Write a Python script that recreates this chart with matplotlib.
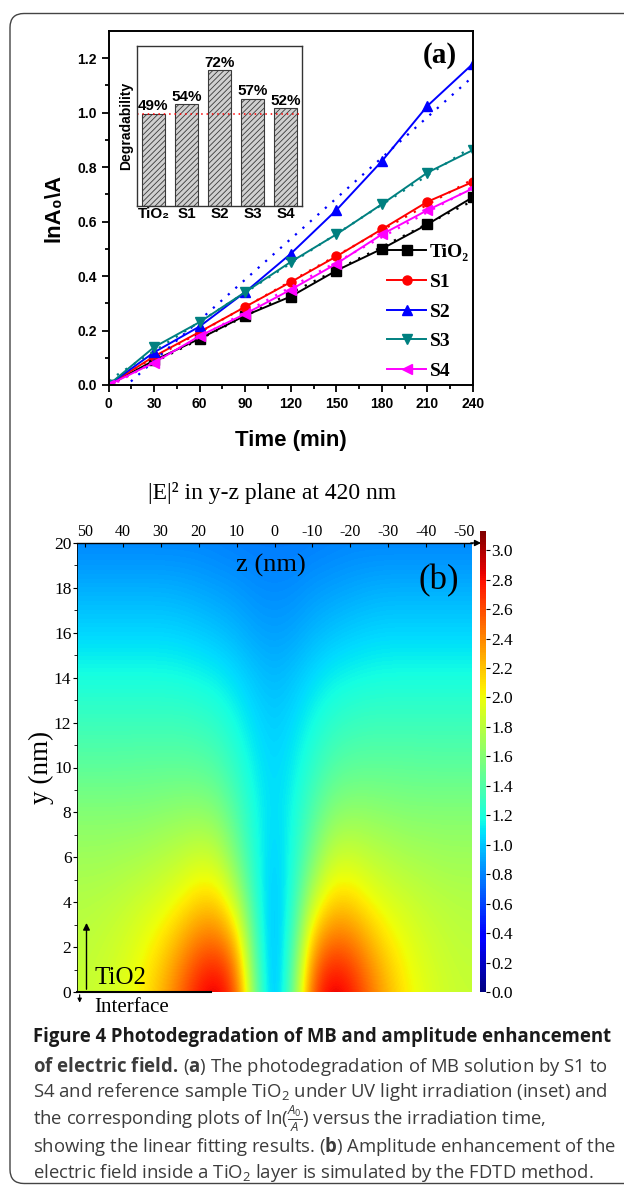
import numpy as np
import matplotlib
matplotlib.use("Agg")
import matplotlib.pyplot as plt
from matplotlib.patches import FancyBboxPatch

plt.rcParams['font.family'] = ['Liberation Sans', 'DejaVu Sans']
plt.rcParams['mathtext.fontset'] = 'custom'
plt.rcParams['mathtext.rm'] = 'Open Sans'
plt.rcParams['mathtext.it'] = 'Open Sans:italic'
plt.rcParams['mathtext.bf'] = 'Open Sans:bold'
plt.rcParams['hatch.linewidth'] = 0.6

# ---------------- data, panel (a) ----------------
time = [0, 30, 60, 90, 120, 150, 180, 210, 240]
tio2 = [0, 0.09, 0.17, 0.255, 0.325, 0.42, 0.50, 0.59, 0.69]
s1 = [0, 0.105, 0.195, 0.287, 0.378, 0.472, 0.572, 0.673, 0.746]
s2 = [0, 0.12, 0.215, 0.341, 0.482, 0.642, 0.822, 1.025, 1.18]
s3 = [0, 0.139, 0.231, 0.341, 0.452, 0.553, 0.664, 0.78, 0.863]
s4 = [0, 0.082, 0.18, 0.261, 0.35, 0.445, 0.553, 0.642, 0.722]

samples = ['TiO₂', 'S1', 'S2', 'S3', 'S4']
degradability = [49, 54, 72, 57, 52]

# ---------------- data, panel (b) ----------------
# |E|^2, rows y = 0,2,...,20 nm, columns z = 0,5,...,50 nm (mirror symmetric)
y_nodes = [0, 2, 4, 6, 8, 10, 12, 14, 16, 18, 20]
z_nodes = [0, 5, 10, 15, 20, 25, 30, 35, 40, 45, 50]
field_half = [
    [0.85, 1.50, 2.60, 2.95, 2.80, 2.50, 2.25, 2.05, 1.95, 1.88, 1.85],
    [0.90, 1.35, 2.30, 2.55, 2.50, 2.30, 2.10, 1.98, 1.90, 1.85, 1.82],
    [0.95, 1.25, 1.85, 2.15, 2.15, 2.02, 1.93, 1.88, 1.83, 1.80, 1.78],
    [1.00, 1.20, 1.55, 1.85, 1.88, 1.82, 1.78, 1.74, 1.72, 1.70, 1.70],
    [1.05, 1.17, 1.40, 1.60, 1.65, 1.64, 1.62, 1.60, 1.60, 1.60, 1.60],
    [1.05, 1.12, 1.27, 1.40, 1.45, 1.46, 1.46, 1.46, 1.45, 1.45, 1.45],
    [1.02, 1.07, 1.17, 1.26, 1.30, 1.32, 1.32, 1.32, 1.32, 1.32, 1.32],
    [0.96, 1.00, 1.07, 1.13, 1.16, 1.18, 1.19, 1.19, 1.19, 1.19, 1.19],
    [0.88, 0.90, 0.95, 0.99, 1.02, 1.04, 1.05, 1.05, 1.05, 1.05, 1.05],
    [0.82, 0.83, 0.86, 0.88, 0.90, 0.92, 0.93, 0.93, 0.93, 0.93, 0.93],
    [0.77, 0.77, 0.78, 0.79, 0.80, 0.80, 0.80, 0.80, 0.80, 0.80, 0.80],
]
z_ticks = [50, 40, 30, 20, 10, 0, -10, -20, -30, -40, -50]
cbar_ticks = [0.0, 0.2, 0.4, 0.6, 0.8, 1.0, 1.2, 1.4, 1.6, 1.8, 2.0, 2.2, 2.4, 2.6, 2.8, 3.0]

W, H = 624, 1187
fig = plt.figure(figsize=(W / 100, H / 100), dpi=100)


def box(x0, y0, x1, y1):
    # pixel box (top-left origin) -> figure fraction
    return [x0 / W, 1 - y1 / H, (x1 - x0) / W, (y1 - y0) / H]


# outer rounded frame
frame = FancyBboxPatch((0.10, 0.035), 7.0, 11.70, boxstyle="round,pad=0,rounding_size=0.14",
                       transform=fig.dpi_scale_trans, fill=False, lw=1.0, ec='#444444')
fig.add_artist(frame)

# ================= panel (a) =================
ax = fig.add_axes(box(108.5, 31, 473, 385))
series = [(tio2, 'TiO₂', 'black', 's'), (s1, 'S1', 'red', 'o'), (s2, 'S2', 'blue', '^'),
          (s3, 'S3', '#008080', 'v'), (s4, 'S4', '#ff00ff', '<')]
tx = np.array(time, dtype=float)
for vals, lab, col, mk in series:
    ax.plot(time, vals, color=col, marker=mk, ms=6.5, lw=1.4, label=lab)
    k, b = np.polyfit(tx, vals, 1)
    ax.plot([0, 240], [b, b + k * 240], color=col, lw=1.6, ls=(0, (1, 3.5)))

ax.set_xlim(0, 240)
ax.set_ylim(0, 1.3)
ax.set_xticks(range(0, 241, 30))
ax.set_xticks(range(15, 241, 30), minor=True)
ax.set_yticks(np.arange(0, 1.21, 0.2))
ax.set_yticks(np.arange(0.1, 1.3, 0.2), minor=True)
ax.set_yticklabels(['%.1f' % v for v in np.arange(0, 1.21, 0.2)])
ax.tick_params(which='both', direction='out', width=1.3, labelsize=10)
ax.tick_params(which='major', length=5)
ax.tick_params(which='minor', length=3)
for lab in ax.get_xticklabels() + ax.get_yticklabels():
    lab.set_fontweight('bold')
for sp in ax.spines.values():
    sp.set_linewidth(1.4)
ax.set_xlabel('Time (min)', fontsize=16, fontweight='bold')
ax.set_ylabel('lnA₀\\A', fontsize=16, fontweight='bold')
ax.xaxis.set_label_coords(0.5, -0.128)
ax.yaxis.set_label_coords(-0.122, 0.5)
ax.text(0.955, 0.93, '(a)', transform=ax.transAxes, ha='right', va='center',
        fontsize=21, fontweight='bold', family='Liberation Serif')
leg = ax.legend(loc='lower right', bbox_to_anchor=(1.037, -0.035), frameon=False,
                prop={'family': ['Liberation Serif', 'DejaVu Serif'], 'weight': 'bold', 'size': 14},
                handlelength=2.0, handletextpad=0.2, labelspacing=0.62, markerscale=1.0)

# inset bars
axi = fig.add_axes(box(137, 46, 302, 206))
xi = np.arange(len(samples))
axi.bar(xi, degradability, width=0.7, color='#d0d0d0', edgecolor='#3a3a3a', hatch='//////', lw=0.8)
for i, v in enumerate(degradability):
    axi.text(xi[i], v + 0.3, '%d%%' % v, ha='center', va='bottom', fontsize=11, fontweight='bold')
axi.axhline(degradability[0], color='red', ls=(0, (1, 2.5)), lw=1.1)
axi.set_xlim(-0.5, 4.5)
axi.set_ylim(0, 85)
axi.set_yticks([])
axi.set_xticks(xi)
axi.set_xticklabels(samples, fontsize=11, fontweight='bold')
axi.tick_params(axis='x', length=0, pad=1)
axi.set_ylabel('Degradability', fontsize=10, fontweight='bold', labelpad=3)
for sp in axi.spines.values():
    sp.set_linewidth(1.0)
    sp.set_color('#333333')

# ================= panel (b) =================
serif = 'Liberation Serif'
fig.text(272 / W, 1 - 493 / H, '|E|² in y-z plane at 420 nm', ha='center', va='center',
         fontsize=17, family=serif)

fh = np.array(field_half)
field = np.hstack([fh[:, :0:-1], fh])
axb = fig.add_axes(box(77, 543, 472, 992))
im = axb.imshow(field, origin='lower', cmap='jet', vmin=0, vmax=3.13, aspect='auto',
                extent=(52.5, -52.5, -1, 21), interpolation='bicubic', interpolation_stage='data')
axb.set_xlim(52, -52)
axb.set_ylim(0, 20)
axb.xaxis.tick_top()
axb.set_xticks(z_ticks)
axb.set_xticklabels([str(z) for z in z_ticks], family=serif, fontsize=11.5)
axb.set_yticks(range(0, 21, 2))
axb.set_yticks(range(1, 20, 2), minor=True)
axb.set_yticklabels([str(v) for v in range(0, 21, 2)], family=serif, fontsize=12.5)
axb.tick_params(axis='x', direction='in', length=3, pad=2)
axb.tick_params(axis='y', which='major', direction='out', length=3, pad=1)
axb.tick_params(axis='y', which='minor', direction='out', length=2)
axb.spines['right'].set_visible(False)
axb.spines['bottom'].set_visible(False)
axb.spines['left'].set_linewidth(0.6)
axb.spines['top'].set_linewidth(1.0)
axb.annotate('', xy=(1.03, 1.0), xytext=(0.99, 1.0), xycoords='axes fraction',
             arrowprops=dict(arrowstyle='-|>', color='black', lw=1.0, mutation_scale=9),
             annotation_clip=False)
axb.plot([0, 0.34], [0, 0], transform=axb.transAxes, color='black', lw=1.5, clip_on=False)
axb.annotate('', xy=(49.5, 3.2), xytext=(49.5, 0.0), xycoords='data',
             arrowprops=dict(arrowstyle='-|>', color='black', lw=1.0, mutation_scale=10))
axb.annotate('', xy=(51.3, -0.6), xytext=(51.3, 0.0), xycoords='data',
             arrowprops=dict(arrowstyle='-|>', color='black', lw=0.8, mutation_scale=6),
             annotation_clip=False)
axb.text(47.5, 0.15, 'TiO2', family=serif, fontsize=18, ha='left', va='bottom')
axb.text(47.5, -0.25, 'Interface', family=serif, fontsize=15, ha='left', va='top')
axb.text(0.49, 0.95, 'z (nm)', transform=axb.transAxes, family=serif, fontsize=19,
         ha='center', va='center')
axb.text(0.915, 0.915, '(b)', transform=axb.transAxes, family=serif, fontsize=25,
         ha='center', va='center')
fig.text(41 / W, 1 - 767 / H, 'y (nm)', rotation=90, family=serif, fontsize=19.5,
         ha='center', va='center')

cax = fig.add_axes(box(480, 531, 486, 992))
cb = fig.colorbar(im, cax=cax, ticks=cbar_ticks)
cb.outline.set_visible(False)
cb.ax.set_yticklabels(['%.1f' % t for t in cbar_ticks], family=serif, fontsize=12.5)
cb.ax.tick_params(length=3, width=0.8, pad=1)

# ================= caption =================
cap_x = 33 / W
cap_font = 'Open Sans'
fig.text(cap_x, 1 - 1037 / H, 'Figure 4 Photodegradation of MB and amplitude enhancement',
         family=cap_font, fontweight='bold', fontsize=13.35, color='#1a1a1a', va='center')
cap_lines = [
    r'$\mathbf{of\ electric\ field.}\,$($\mathbf{a}$) The photodegradation of MB solution by S1 to',
    r'S4 and reference sample TiO$_2$ under UV light irradiation (inset) and',
    r'the corresponding plots of ln($\frac{A_0}{A}$) versus the irradiation time,',
    r'showing the linear fitting results. ($\mathbf{b}$) Amplitude enhancement of the',
    r'electric field inside a TiO$_2$ layer is simulated by the FDTD method.',
]
cap_y = [1066, 1092, 1119, 1147, 1173]
for s, yy in zip(cap_lines, cap_y):
    fig.text(cap_x, 1 - yy / H, s, family=cap_font, fontsize=13.35, color='#3c3c3c', va='center')

fig.savefig('out.png', dpi=100)
